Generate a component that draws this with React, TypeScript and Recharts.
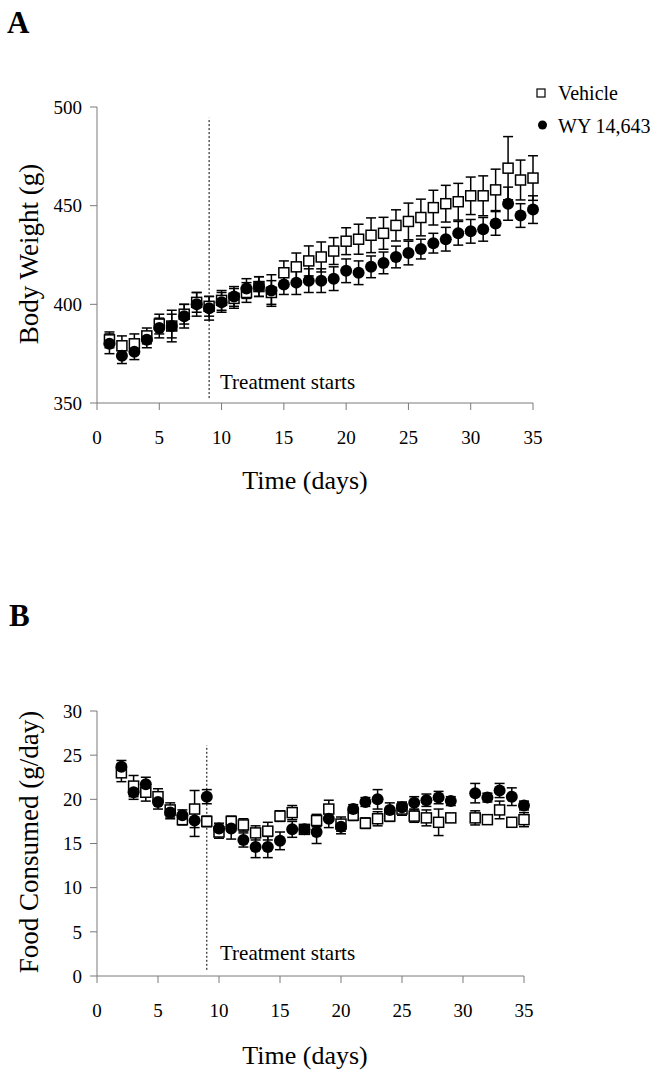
import React from 'react';
import {
  ErrorBar,
  ReferenceLine,
  Scatter,
  ScatterChart,
  XAxis,
  YAxis,
} from 'recharts';

// Panel A: body weight (g), days 1..35
const weightDays = [
  1, 2, 3, 4, 5, 6, 7, 8, 9, 10, 11, 12, 13, 14, 15, 16, 17, 18, 19, 20, 21, 22,
  23, 24, 25, 26, 27, 28, 29, 30, 31, 32, 33, 34, 35,
];
const vehicleWeight = [
  382, 379, 380, 384, 390, 389, 395, 401, 399, 402, 403, 406, 409, 406, 416, 419,
  422, 424, 427, 432, 433, 435, 436, 440, 442, 444, 449, 451, 452, 455, 455, 458,
  469, 463, 464,
];
const vehicleWeightErr = [
  4, 5, 5, 4, 5, 6, 5, 5, 5, 5, 5, 5, 5, 6, 6, 7, 7.6, 7.6, 6.8, 6.8, 7.6, 8.8,
  8.1, 7.9, 9.3, 9.3, 8.8, 9.3, 9.3, 9.5, 10.1, 10.5, 16, 10.1, 11.3,
];
const wyWeight = [
  380, 374, 376, 382, 388, 389, 394, 400, 398, 401, 404, 408, 409, 407, 410, 411,
  412, 412, 413, 417, 416, 419, 421, 424, 426, 428, 431, 433, 436, 437, 438, 441,
  451, 445, 448,
];
const wyWeightErr = [
  5, 4, 4, 4, 5, 8, 6, 6, 6, 5, 5, 5, 5, 8, 5, 6, 6, 6, 6, 6, 6, 5.5, 5.5, 5.5, 6,
  5, 5, 6, 6, 6, 6, 6, 8.4, 6, 7,
];

// Panel B: food consumed (g/day), no reading on day 1 and day 30
const foodDays = [
  2, 3, 4, 5, 6, 7, 8, 9, 10, 11, 12, 13, 14, 15, 16, 17, 18, 19, 20, 21, 22, 23,
  24, 25, 26, 27, 28, 29, 31, 32, 33, 34, 35,
];
const vehicleFood = [
  23.0, 21.5, 20.8, 20.3, 18.8, 17.7, 18.9, 17.5, 16.3, 17.5, 17.1, 16.2, 16.4,
  18.1, 18.5, 16.6, 17.6, 18.9, 17.2, 18.2, 17.3, 17.8, 18.1, 18.9, 18.1, 17.9,
  17.4, 17.9, 17.9, 17.7, 18.8, 17.4, 17.7,
];
const vehicleFoodErr = [
  1.0, 1.2, 1.0, 0.9, 0.8, 0.6, 2.1, 0.6, 0.7, 0.6, 0.7, 0.8, 1.0, 0.6, 0.8, 0.5,
  0.7, 1.0, 0.8, 0.6, 0.6, 0.8, 0.6, 0.7, 0.7, 0.9, 1.5, 0.5, 0.8, 0.5, 1.0, 0.5,
  0.8,
];
const wyFood = [
  23.7, 20.8, 21.7, 19.7, 18.5, 18.2, 17.6, 20.3, 16.7, 16.7, 15.4, 14.6, 14.6,
  15.3, 16.6, 16.6, 16.3, 17.8, 16.9, 18.9, 19.7, 20.0, 18.8, 19.1, 19.6, 19.9,
  20.2, 19.8, 20.7, 20.2, 21.0, 20.3, 19.3,
];
const wyFoodErr = [
  0.7, 0.8, 0.8, 0.8, 0.7, 0.6, 1.8, 0.8, 0.6, 1.2, 0.8, 1.2, 1.2, 1.0, 0.9, 0.5,
  1.3, 1.0, 0.8, 0.5, 0.5, 1.1, 0.8, 0.6, 0.7, 0.7, 0.7, 0.5, 1.1, 0.5, 0.8, 1.0,
  0.5,
];

const dayTicks = [0, 5, 10, 15, 20, 25, 30, 35];
const weightTicks = [350, 400, 450, 500];
const foodTicks = [0, 5, 10, 15, 20, 25, 30];
const treatmentDay = 9;

const toPoints = (xs: number[], ys: number[], errs: number[]) =>
  xs.map((x, i) => ({x, y: ys[i], err: errs[i]}));

const FONT = '"Liberation Serif", "Times New Roman", serif';
const AXIS = '#7a7a7a';

const SquareMark = (p: any) => (
  <rect
    x={p.cx - 5}
    y={p.cy - 5}
    width={10}
    height={10}
    fill="#fff"
    stroke="#000"
    strokeWidth={1.5}
  />
);
const DotMark = (p: any) => <circle cx={p.cx} cy={p.cy} r={6} fill="#000" />;

const Txt = ({x, y, size = 20, children, weight = 'normal'}: any) => (
  <div
    style={{
      position: 'absolute',
      left: x,
      top: y,
      transform: 'translateY(-50%)',
      fontSize: size,
      fontWeight: weight,
      whiteSpace: 'nowrap',
      lineHeight: 1,
    }}>
    {children}
  </div>
);

const VTxt = ({x, y, size = 27, children}: any) => (
  <div
    style={{
      position: 'absolute',
      left: x,
      top: y,
      transform: 'translate(-50%, -50%) rotate(-90deg)',
      fontSize: size,
      whiteSpace: 'nowrap',
      lineHeight: 1,
    }}>
    {children}
  </div>
);

const tickStyle = {fill: '#000', fontSize: 19, fontFamily: FONT};

type PanelProps = {
  top: number;
  height: number;
  margin: {top: number; right: number; bottom: number; left: number};
  domain: number[];
  yTicks: number[];
  vehicle: any[];
  wy: any[];
  lineFrom: number;
  lineTo: number;
};

const Panel = ({top, height, margin, domain, yTicks, vehicle, wy, lineFrom, lineTo}: PanelProps) => (
  <div style={{position: 'absolute', left: 0, top}}>
    <ScatterChart width={664} height={height} margin={margin}>
      <XAxis
        type="number"
        dataKey="x"
        domain={[0, 35]}
        ticks={dayTicks}
        height={60}
        stroke={AXIS}
        tickSize={7}
        tickMargin={21}
        tick={tickStyle}
      />
      <YAxis
        type="number"
        dataKey="y"
        domain={domain}
        ticks={yTicks}
        width={97}
        stroke={AXIS}
        tickSize={7}
        tickMargin={8}
        tick={tickStyle}
      />
      <ReferenceLine
        segment={[
          {x: treatmentDay, y: lineFrom},
          {x: treatmentDay, y: lineTo},
        ]}
        stroke="#000"
        strokeDasharray="2 2"
        strokeWidth={1}
      />
      <Scatter name="Vehicle" data={vehicle} shape={SquareMark} isAnimationActive={false}>
        <ErrorBar dataKey="err" direction="y" width={5} stroke="#000" strokeWidth={1.5} />
      </Scatter>
      <Scatter name="WY 14,643" data={wy} shape={DotMark} isAnimationActive={false}>
        <ErrorBar dataKey="err" direction="y" width={5} stroke="#000" strokeWidth={1.5} />
      </Scatter>
    </ScatterChart>
  </div>
);

export default function App() {
  const vehicleA = toPoints(weightDays, vehicleWeight, vehicleWeightErr);
  const wyA = toPoints(weightDays, wyWeight, wyWeightErr);
  const vehicleB = toPoints(foodDays, vehicleFood, vehicleFoodErr);
  const wyB = toPoints(foodDays, wyFood, wyFoodErr);

  return (
    <div
      style={{
        position: 'absolute',
        left: 0,
        top: 0,
        width: 664,
        height: 1080,
        background: '#fff',
        fontFamily: FONT,
        color: '#000',
      }}>
      <Panel
        top={0}
        height={520}
        margin={{top: 107, right: 131, bottom: 57, left: 0}}
        domain={[350, 500]}
        yTicks={weightTicks}
        vehicle={vehicleA}
        wy={wyA}
        lineFrom={352.5}
        lineTo={494.5}
      />
      <Panel
        top={600}
        height={480}
        margin={{top: 111, right: 140, bottom: 44, left: 0}}
        domain={[0, 30]}
        yTicks={foodTicks}
        vehicle={vehicleB}
        wy={wyB}
        lineFrom={0.7}
        lineTo={26.1}
      />

      <Txt x={7} y={22} size={31} weight="bold">A</Txt>
      <Txt x={9} y={615} size={31} weight="bold">B</Txt>

      <VTxt x={29} y={254}>Body Weight (g)</VTxt>
      <VTxt x={29} y={842}>Food Consumed (g/day)</VTxt>

      <div style={{position: 'absolute', left: 0, width: 610, top: 468, textAlign: 'center', fontSize: 26, lineHeight: 1}}>
        Time (days)
      </div>
      <div style={{position: 'absolute', left: 0, width: 610, top: 1043, textAlign: 'center', fontSize: 26, lineHeight: 1}}>
        Time (days)
      </div>

      <Txt x={220} y={382} size={21}>Treatment starts</Txt>
      <Txt x={220} y={953} size={21}>Treatment starts</Txt>

      <svg style={{position: 'absolute', left: 530, top: 80}} width={26} height={60}>
        <rect x={7} y={9} width={8} height={8} fill="#fff" stroke="#000" strokeWidth={1.2} />
        <circle cx={12.5} cy={45} r={4.5} fill="#000" />
      </svg>
      <Txt x={558} y={93}>Vehicle</Txt>
      <Txt x={558} y={126}>WY 14,643</Txt>
    </div>
  );
}
